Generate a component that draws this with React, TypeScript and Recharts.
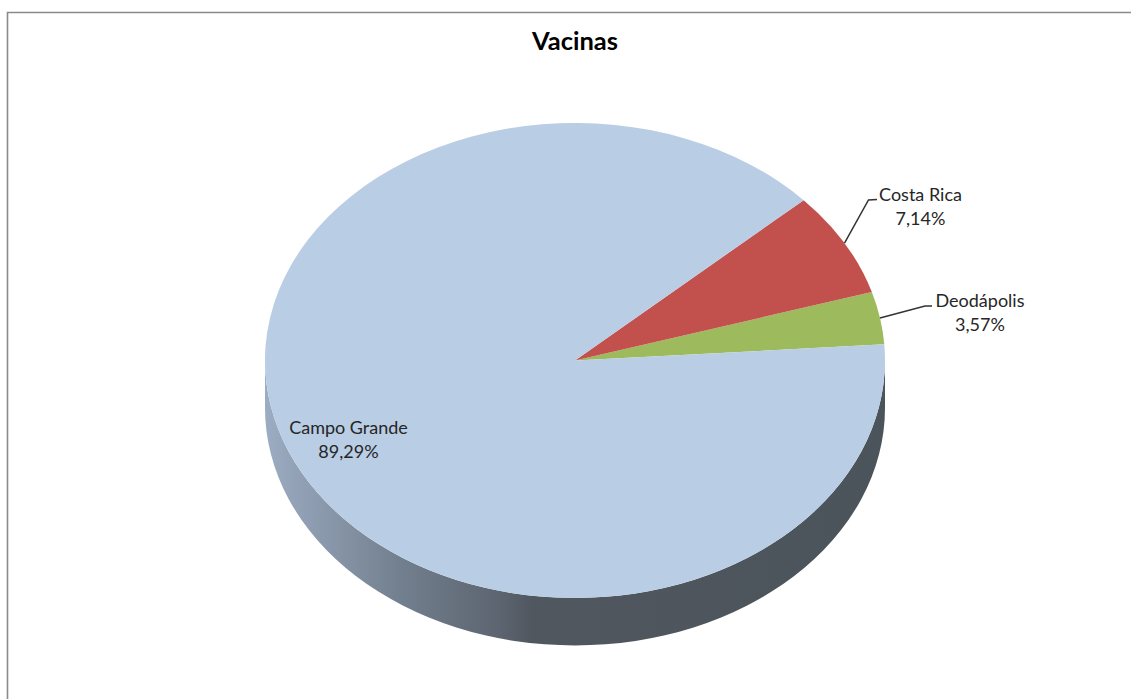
import React from 'react';
import { PieChart, Pie } from 'recharts';

const categories = ['Deodápolis', 'Costa Rica', 'Campo Grande'];
const seriesValues = [1, 2, 25];
const sliceColors = ['#9dbb5c', '#c2514e', '#b9cde5'];
const chartTitle = 'Vacinas';

const tableData = categories.map((name, i) => ({ name, value: seriesValues[i], fill: sliceColors[i] }));

const W = 1131;
const H = 699;
const CX = 575;
const CY = 360.5;
const R = 310;
const SQUASH = 237.5 / 310;
const DEPTH = 47.5;
const FONT = 'Lato, "Open Sans", sans-serif';
const TEXT = '#262626';
const RAD = Math.PI / 180;

const labelLayout: Record<string, { x: number; y: number; leader?: [number, number, number, number] }> = {
  'Campo Grande': { x: 348.5, y: 434 },
  'Costa Rica': { x: 920.5, y: 200.5, leader: [868.5, 200, 877, 199.5] },
  'Deodápolis': { x: 980, y: 307, leader: [925, 306, 932, 306] },
};

const pt = (cx: number, cy: number, r: number, deg: number) => ({
  x: cx + r * Math.cos(deg * RAD),
  y: cy - r * SQUASH * Math.sin(deg * RAD),
});

function EllipticSlice(props: any) {
  const { cx, cy, outerRadius: r, startAngle, endAngle, fill, name } = props;
  const a = pt(cx, cy, r, startAngle);
  const b = pt(cx, cy, r, endAngle);
  const ry = r * SQUASH;
  const large = Math.abs(endAngle - startAngle) > 180 ? 1 : 0;
  const hasWall = name === 'Campo Grande';
  return (
    <g>
      {hasWall && (
        <path
          d={`M${cx - r},${cy} A${r},${ry} 0 0 0 ${cx + r},${cy} L${cx + r},${cy + DEPTH} A${r},${ry} 0 0 1 ${cx - r},${cy + DEPTH} Z`}
          fill="url(#wallShade)"
        />
      )}
      <path d={`M${cx},${cy} L${a.x},${a.y} A${r},${ry} 0 ${large} 0 ${b.x},${b.y} Z`} fill={fill} stroke="none" />
    </g>
  );
}

function SliceLabel(props: any) {
  const { cx, cy, outerRadius: r, midAngle, percent, name } = props;
  const layout = labelLayout[name];
  if (!layout) return null;
  const edge = pt(cx, cy, r, midAngle);
  const pctText = `${(percent * 100).toFixed(2).replace('.', ',')}%`;
  return (
    <g>
      {layout.leader && (
        <polyline
          points={`${edge.x},${edge.y} ${layout.leader[0]},${layout.leader[1]} ${layout.leader[2]},${layout.leader[3]}`}
          fill="none"
          stroke="#333333"
          strokeWidth={1.5}
        />
      )}
      <text x={layout.x} y={layout.y} textAnchor="middle" fontFamily={FONT} fontSize={18} fill={TEXT}>
        {name}
      </text>
      <text x={layout.x} y={layout.y + 24} textAnchor="middle" fontFamily={FONT} fontSize={18} fill={TEXT}>
        {pctText}
      </text>
    </g>
  );
}

export default function App() {
  return (
    <div style={{ position: 'absolute', left: 0, top: 0, width: W, height: H, background: '#fff' }}>
      <PieChart width={W} height={H} margin={{ top: 0, right: 0, bottom: 0, left: 0 }}>
        <defs>
          <linearGradient id="wallShade" gradientUnits="userSpaceOnUse" x1={CX - R} y1={0} x2={CX + R} y2={0}>
            <stop offset="0" stopColor="#9cacc2" />
            <stop offset="0.22" stopColor="#727f8e" />
            <stop offset="0.38" stopColor="#5c6470" />
            <stop offset="0.43" stopColor="#50575f" />
            <stop offset="1" stopColor="#4c545b" />
          </linearGradient>
        </defs>
        <path d={`M7.5,${H} L7.5,12.5 L${W},12.5`} fill="none" stroke="#8a8a8a" strokeWidth={1.6} />
        <text x={575} y={49.5} textAnchor="middle" fontFamily={FONT} fontSize={25.5} fontWeight={700} fill="#000">
          {chartTitle}
        </text>
        <Pie
          data={tableData}
          dataKey="value"
          nameKey="name"
          cx={CX}
          cy={CY}
          innerRadius={0}
          outerRadius={R}
          startAngle={3.9}
          endAngle={363.9}
          stroke="none"
          isAnimationActive={false}
          shape={EllipticSlice}
          label={SliceLabel}
          labelLine={false}
        />
      </PieChart>
    </div>
  );
}
